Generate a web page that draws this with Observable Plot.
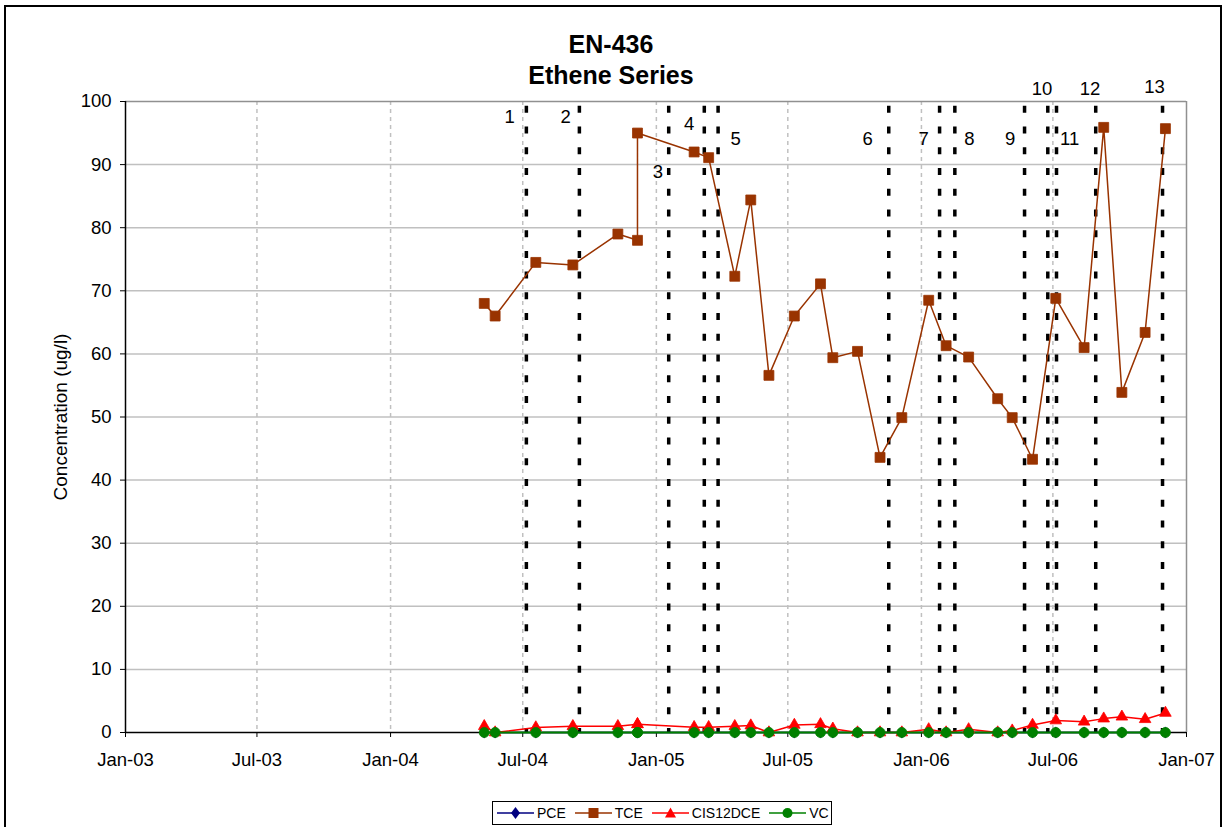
<!DOCTYPE html>
<html>
<head>
<meta charset="utf-8">
<script src="https://cdn.jsdelivr.net/npm/d3@7"></script>
<script src="https://cdn.jsdelivr.net/npm/@observablehq/plot@0.6"></script>
<style>
html, body { margin: 0; padding: 0; background: #fff; overflow: hidden; width: 1225px; height: 827px; }
#wrap { position: relative; width: 1225px; height: 827px; font-family: "Liberation Sans", Arial, sans-serif; color: #000; }
#title { position: absolute; left: 0; top: 29px; width: 1222px; text-align: center; font-weight: bold; font-size: 25px; line-height: 31px; }
#chart { position: absolute; left: 0; top: 0; }
#frame { position: absolute; left: 4px; top: 5px; width: 1214px; height: 850px; border: 2px solid #000; pointer-events: none; }
#legend { position: absolute; left: 492px; top: 801px; width: 340px; height: 24px; box-sizing: border-box; border: 1px solid #000; display: flex; align-items: center; padding-left: 4px; font-size: 14px; background: #fff; }
#legend .item { display: flex; align-items: center; margin-right: 9px; }
#legend svg { margin-right: 3px; }
</style>
</head>
<body>
<div id="wrap">
  <div id="title">EN-436<br>Ethene Series</div>
  <div id="chart"></div>
  <div id="legend"></div>
  <div id="frame"></div>
</div>
<script>
// ---- data ----
const sampleDates = [
  "2004-05-09","2004-05-24","2004-07-19","2004-09-08","2004-11-09","2004-12-06","2004-12-06",
  "2005-02-22","2005-03-14","2005-04-19","2005-05-11","2005-06-05","2005-07-10","2005-08-15",
  "2005-09-01","2005-10-05","2005-11-05","2005-12-05","2006-01-11","2006-02-04","2006-03-07",
  "2006-04-16","2006-05-06","2006-06-03","2006-07-05","2006-08-13","2006-09-09","2006-10-04",
  "2006-11-05","2006-12-03"
];
const tce = [68.0, 66.0, 74.5, 74.1, 79.0, 78.0, 95.0, 92.0, 91.1, 72.3, 84.4, 56.6, 66.0, 71.1,
  59.4, 60.4, 43.6, 49.9, 68.5, 61.3, 59.5, 52.9, 49.9, 43.3, 68.8, 61.0, 95.9, 53.9, 63.4, 95.7];
const cis12dce = [1.0, 0, 0.8, 1.0, 1.0, 1.3, 1.3, 0.85, 0.85, 1.0, 1.1, 0, 1.2, 1.3,
  0.6, 0, 0, 0, 0.5, 0, 0.5, 0, 0.3, 1.2, 1.9, 1.7, 2.2, 2.5, 2.1, 3.1];
const pce = [0,0,0,0,0,0,0,0,0,0,0,0,0,0,0,0,0,0,0,0,0,0,0,0,0,0,0,0,0,0];
const vc  = [0,0,0,0,0,0,0,0,0,0,0,0,0,0,0,0,0,0,0,0,0,0,0,0,0,0,0,0,0,0];

const seriesNames = ["PCE", "TCE", "CIS12DCE", "VC"];
const seriesColors = ["#000080", "#993300", "#ff0000", "#008000"];
const seriesSymbols = ["diamond", "square", "triangle", "circle"];

// event markers (vertical dashed lines) and their labels
const eventDates = ["2004-07-06","2004-09-17","2005-01-18","2005-03-08","2005-03-27","2005-11-17",
  "2006-01-26","2006-02-16","2006-05-23","2006-06-24","2006-07-06","2006-08-29","2006-11-29"];
const eventLabels = ["1","2","3","4","5","6","7","8","9","10","11","12","13"];
const labelDates = ["2004-06-13","2004-08-29","2005-01-03","2005-02-15","2005-04-20","2005-10-19",
  "2006-01-04","2006-03-08","2006-05-03","2006-06-16","2006-07-24","2006-08-21","2006-11-18"];
const labelValues = [97.6, 97.6, 88.8, 96.4, 94.1, 94.1, 94.1, 94.1, 94.1, 102.0, 94.1, 102.0, 102.3];

// axes
const xTickDates = ["2003-01-01","2003-07-01","2004-01-01","2004-07-01","2005-01-01",
  "2005-07-01","2006-01-01","2006-07-01","2007-01-01"];
const yTicks = [0,10,20,30,40,50,60,70,80,90,100];
const yLabel = "Concentration (ug/l)";

// ---- build ----
const toDate = s => new Date(s + "T00:00:00Z");
const rows = sampleDates.map((d, i) => ({
  date: toDate(d), PCE: pce[i], TCE: tce[i], CIS12DCE: cis12dce[i], VC: vc[i]
}));
const xTicks = xTickDates.map(toDate);
const xStart = xTicks[0], xEnd = xTicks[xTicks.length - 1];

const seriesMarks = [];
seriesNames.forEach((name, k) => {
  seriesMarks.push(Plot.line(rows, {x: "date", y: name, stroke: seriesColors[k], strokeWidth: name === "VC" ? 2 : 1.5}));
});
const sizes = {PCE: 3.4, TCE: 5.6, CIS12DCE: 4.3, VC: 5};
seriesNames.forEach((name, k) => {
  seriesMarks.push(Plot.dot(rows, {x: "date", y: name, symbol: seriesSymbols[k], r: sizes[name],
    fill: seriesColors[k], stroke: seriesColors[k], strokeWidth: 0.8}));
});

const chart = Plot.plot({
  width: 1225, height: 790,
  marginTop: 101, marginBottom: 58, marginLeft: 125, marginRight: 39,
  style: {background: "none", fontFamily: "Liberation Sans, Arial, sans-serif", fontSize: "18.5px", color: "#000", overflow: "visible"},
  x: {type: "utc", domain: [xStart, xEnd], ticks: xTicks, tickFormat: d3.utcFormat("%b-%y"), tickSize: 5, tickPadding: 15, label: null},
  y: {domain: [0, 100], ticks: yTicks, tickSize: 5, tickPadding: 9, label: null},
  marks: [
    Plot.ruleY(yTicks.slice(1, -1), {stroke: "#c0c0c0", strokeWidth: 1.5}),
    Plot.ruleX(xTicks.slice(1, -1), {stroke: "#c0c0c0", strokeWidth: 1.5, strokeDasharray: "4,4"}),
    Plot.ruleY([100], {stroke: "#909090", strokeWidth: 1.5}),
    Plot.ruleX([xEnd], {stroke: "#909090", strokeWidth: 1.5}),
    Plot.ruleX(eventDates.map(toDate), {stroke: "#000", strokeWidth: 3.5, strokeDasharray: "7,13.74", strokeDashoffset: -4.7}),
    Plot.ruleY([0], {stroke: "#000", strokeWidth: 1.5}),
    Plot.ruleX([xStart], {stroke: "#000", strokeWidth: 1.5}),
    ...seriesMarks,
    Plot.text(eventLabels, {x: labelDates.map(toDate), y: labelValues, text: d => d, fill: "#000"}),
    Plot.text([yLabel], {frameAnchor: "left", textAnchor: "middle", dx: -65, rotate: -90, text: d => d, fill: "#000", fontSize: 19})
  ]
});
document.getElementById("chart").appendChild(chart);

// ---- legend ----
const legend = document.getElementById("legend");
const symPath = {
  diamond: "M18.5,1 L23,7 L18.5,13 L14,7 Z",
  square: "M13.5,2 H23.5 V12 H13.5 Z",
  triangle: "M18.5,1.5 L24,11.5 L13,11.5 Z"
};
seriesNames.forEach((name, k) => {
  const item = document.createElement("div");
  item.className = "item";
  const c = seriesColors[k];
  const marker = seriesSymbols[k] === "circle"
    ? `<circle cx="18.5" cy="7" r="5" fill="${c}"/>`
    : `<path d="${symPath[seriesSymbols[k]]}" fill="${c}"/>`;
  item.innerHTML = `<svg width="37" height="14" viewBox="0 0 37 14"><line x1="0" y1="7" x2="37" y2="7" stroke="${c}" stroke-width="1.5"/>${marker}</svg><span>${name}</span>`;
  legend.appendChild(item);
});
</script>
</body>
</html>
